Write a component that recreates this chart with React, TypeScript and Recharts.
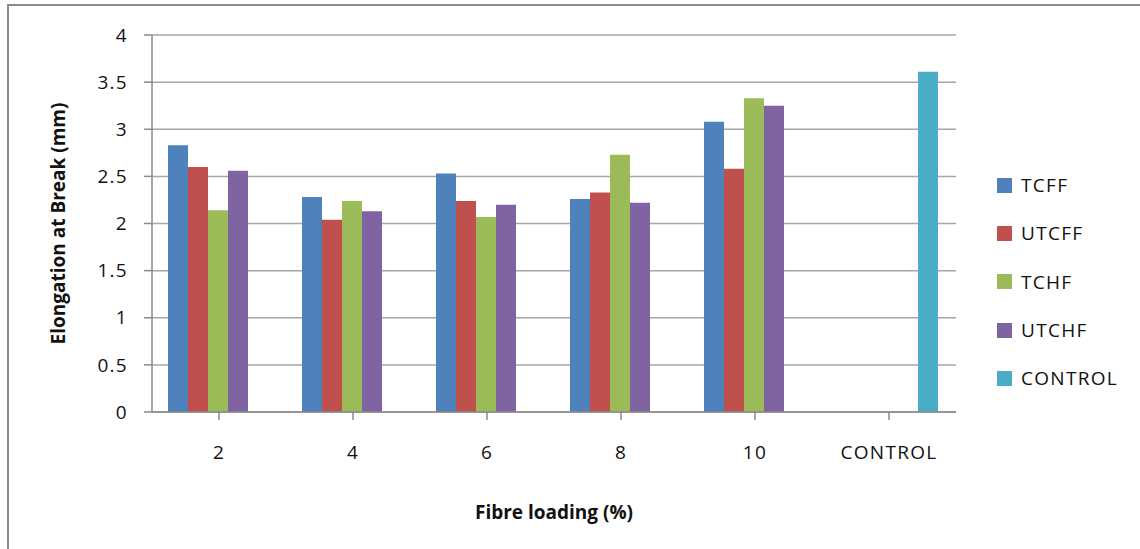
import React from 'react';
import { BarChart, Bar, XAxis, YAxis, CartesianGrid, Legend } from 'recharts';

const categories = ['2', '4', '6', '8', '10', 'CONTROL'];
const tcff = [2.83, 2.28, 2.53, 2.26, 3.08, null];
const utcff = [2.6, 2.04, 2.24, 2.33, 2.58, null];
const tchf = [2.14, 2.24, 2.07, 2.73, 3.33, null];
const utchf = [2.56, 2.13, 2.2, 2.22, 3.25, null];
const control = [null, null, null, null, null, 3.61];
const yTicks = [0, 0.5, 1, 1.5, 2, 2.5, 3, 3.5, 4];

const seriesNames = ['TCFF', 'UTCFF', 'TCHF', 'UTCHF', 'CONTROL'];
const seriesColors = ['#4F81BD', '#C0504D', '#9BBB59', '#8064A2', '#4BACC6'];
const seriesValues = [tcff, utcff, tchf, utchf, control];

const data = categories.map((c, i) => {
  const row: Record<string, any> = { cat: c };
  seriesNames.forEach((n, k) => {
    row[n] = seriesValues[k][i];
  });
  return row;
});

const FONT = '"Open Sans", "Liberation Sans", sans-serif';

const LegendContent = () => (
  <div style={{ fontFamily: FONT }}>
    {seriesNames.map((n, i) => (
      <div key={n} style={{ display: 'flex', alignItems: 'center', height: 48.3 }}>
        <div style={{ width: 15, height: 15, background: seriesColors[i], marginRight: 9 }} />
        <span style={{ fontSize: 19, color: '#111', letterSpacing: 1.3 }}>{n}</span>
      </div>
    ))}
  </div>
);

export default function App() {
  return (
    <div style={{ position: 'fixed', left: 0, top: 0, width: 1140, height: 549, overflow: 'hidden', background: '#fff' }}>
      <div style={{ position: 'absolute', left: 0, top: 0 }}>
        <BarChart
          width={1140}
          height={549}
          data={data}
          margin={{ top: 35, right: 44, bottom: 0, left: 0 }}
          barCategoryGap={16}
          barGap={0}
        >
          <CartesianGrid vertical={false} stroke="#a6a6a6" strokeWidth={1.5} />
          <XAxis
            dataKey="cat"
            height={137}
            tickSize={8}
            tickMargin={26}
            stroke="#8a8a8a"
            strokeWidth={1.5}
            tick={{ fill: '#111', fontSize: 19, fontFamily: FONT, letterSpacing: 1.3 }}
            label={{
              value: 'Fibre loading (%)',
              position: 'insideBottom',
              offset: 30,
              style: { fontFamily: FONT, fontWeight: 'bold', fontSize: 19, fill: '#111' },
            }}
          />
          <YAxis
            width={152}
            domain={[0, 4]}
            ticks={yTicks}
            interval={0}
            tickSize={8}
            tickMargin={16}
            stroke="#8a8a8a"
            strokeWidth={1.5}
            tick={{ fill: '#111', fontSize: 19, fontFamily: FONT, letterSpacing: 1.3 }}
            label={{
              value: 'Elongation at Break (mm)',
              angle: -90,
              position: 'center',
              dx: -18,
              style: { fontFamily: FONT, fontWeight: 'bold', fontSize: 19, fill: '#111', textAnchor: 'middle' },
            }}
          />
          <Legend
            layout="vertical"
            align="right"
            verticalAlign="top"
            content={<LegendContent />}
            wrapperStyle={{ left: 997, top: 161, width: 140 }}
          />
          {seriesNames.map((n, i) => (
            <Bar key={n} dataKey={n} fill={seriesColors[i]} isAnimationActive={false} />
          ))}
        </BarChart>
      </div>
      <div
        style={{
          position: 'absolute',
          left: 7,
          top: 4,
          width: 1200,
          height: 600,
          borderTop: '2px solid #8a8a8a',
          borderLeft: '2px solid #8a8a8a',
          boxSizing: 'border-box',
          pointerEvents: 'none',
          zIndex: 5,
        }}
      />
    </div>
  );
}
